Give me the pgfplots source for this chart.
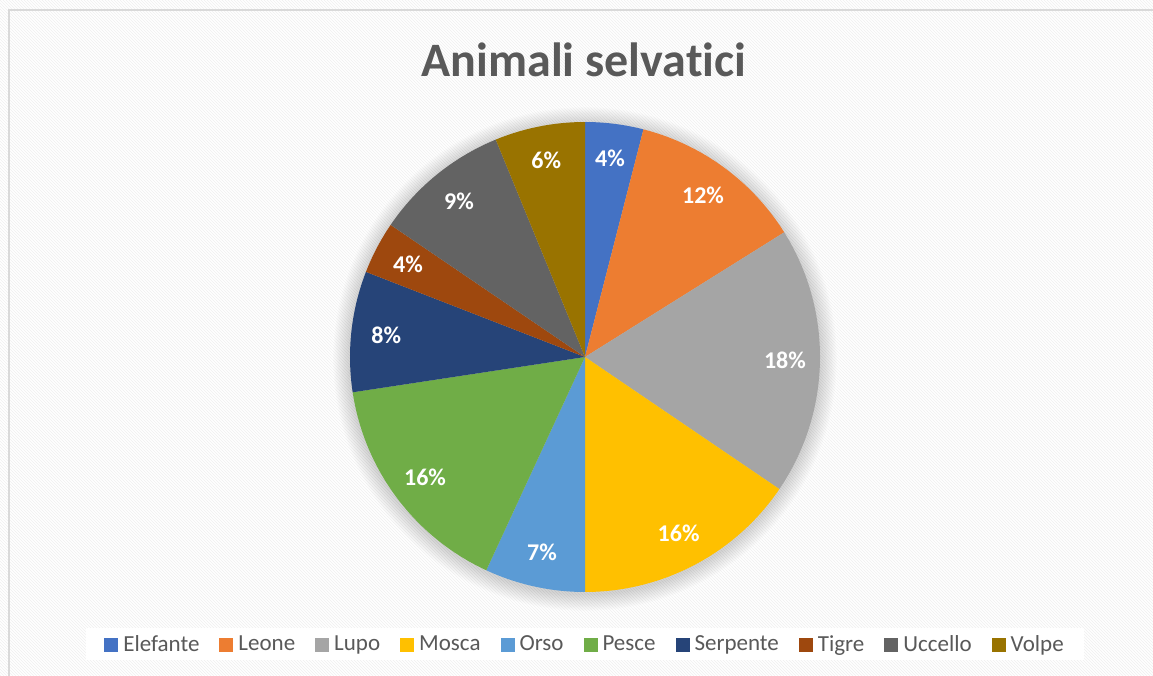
\documentclass[border=0pt]{standalone}
\usepackage{pgfplots}
\pgfplotsset{compat=1.18}
\usepackage{fontspec}
\setmainfont{Carlito}[Ligatures=NoCommon]
\usetikzlibrary{patterns}
\definecolor{cElef}{HTML}{4472C4}
\definecolor{cLeon}{HTML}{ED7D31}
\definecolor{cLupo}{HTML}{A5A5A5}
\definecolor{cMosc}{HTML}{FFC000}
\definecolor{cOrso}{HTML}{5B9BD5}
\definecolor{cPesc}{HTML}{70AD47}
\definecolor{cSerp}{HTML}{264478}
\definecolor{cTigr}{HTML}{9E480E}
\definecolor{cUcce}{HTML}{636363}
\definecolor{cVolp}{HTML}{997300}
\definecolor{txt}{HTML}{595959}
\tikzset{labstyle/.style={font=\fontsize{24}{28}\selectfont\bfseries, text=white}}
\newcommand\cum{0}
\newcommand\labr{200}
% #1 share (percent), #2 colour, #3 data label, #4 legend name
\newcommand{\slice}[4]{%
  \pgfmathsetmacro\sa{\cum*3.6}%
  \pgfmathsetmacro\se{(\cum+#1)*3.6}%
  \pgfmathsetmacro\sm{(\cum+#1/2)*3.6}%
  \pgfmathsetmacro\lx{585+\labr*sin(\sm)}%
  \pgfmathsetmacro\ly{318+\labr*cos(\sm)}%
  \edef\doit{%
    \noexpand\addplot[fill=#2, draw=none, domain=\sa:\se, samples=90]
      ({585+235*sin(x)},{318+235*cos(x)}) -- (axis cs:585,318) -- cycle;
    \noexpand\addlegendentry{#4}
    \noexpand\node[labstyle] at (axis cs:\lx,\ly) {#3};
  }\doit
  \pgfmathsetmacro\newcum{\cum+#1}\global\let\cum\newcum
}
\begin{document}
\begin{tikzpicture}
\path[use as bounding box] (0,0) rectangle (1153pt,675pt);
\begin{axis}[
  scale only axis, width=1153pt, height=675pt,
  xmin=0, xmax=1153, ymin=0, ymax=675,
  hide axis, clip=false,
  legend columns=-1,
  legend style={at={(0.5074,0.0459)}, anchor=center, draw=none, fill=white,
    font=\fontsize{23}{26}\selectfont, text=txt, inner xsep=18pt, inner ysep=5pt,
    /tikz/every odd column/.style={column sep=3pt},
    /tikz/every even column/.style={column sep=18pt}},
  legend image code/.code={\fill[#1, draw=none] (0pt,-7.5pt) rectangle (14pt,6.5pt);},
]
% background
\fill[white] (axis cs:0,0) rectangle (axis cs:1153,675);
\fill[pattern=north west lines, pattern color=black!6] (axis cs:0,0) rectangle (axis cs:1153,675);
\draw[black!15, line width=2pt] (axis cs:9,-10) |- (axis cs:1170,665);
% soft shadow
\pgfplotsinvokeforeach{1,...,14}{
  \fill[black, opacity=0.012] (axis cs:585,316) circle[radius=235+#1*1.2];
}
\slice{4.0}{cElef}{4\%}{Elefante}
\slice{12.1}{cLeon}{12\%}{Leone}
\slice{18.4}{cLupo}{18\%}{Lupo}
\slice{15.5}{cMosc}{16\%}{Mosca}
\slice{6.9}{cOrso}{7\%}{Orso}
\slice{15.7}{cPesc}{16\%}{Pesce}
\slice{8.3}{cSerp}{8\%}{Serpente}
\slice{3.6}{cTigr}{4\%}{Tigre}
\slice{9.3}{cUcce}{9\%}{Uccello}
\slice{6.2}{cVolp}{6\%}{Volpe}
\node[font=\fontsize{48}{54}\selectfont\bfseries, text=txt] at (axis cs:584,615) {Animali selvatici};
\end{axis}
\end{tikzpicture}
\end{document}
